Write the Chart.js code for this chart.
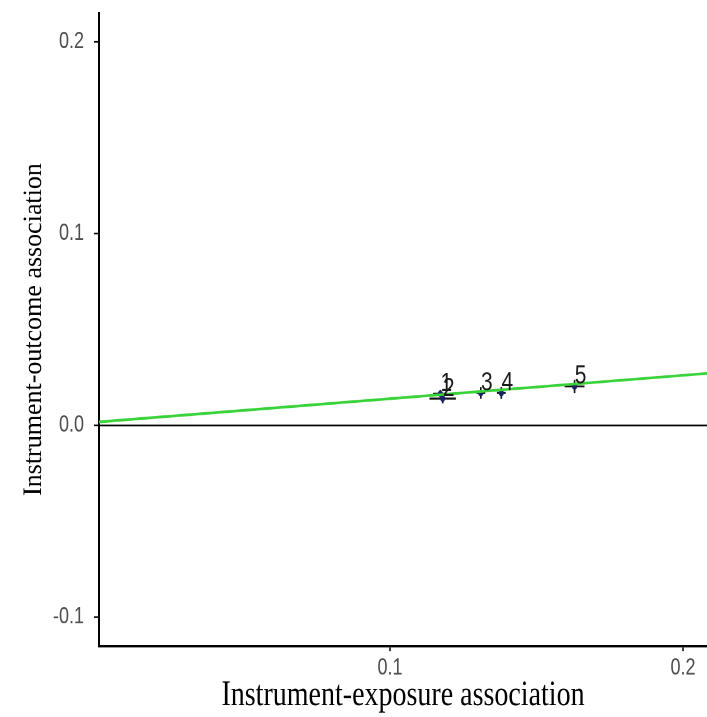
<!DOCTYPE html>
<html>
<head>
<meta charset="utf-8">
<script src="https://cdn.jsdelivr.net/npm/chart.js@4.4.1/dist/chart.umd.min.js"></script>
<style>
  html, body { margin: 0; padding: 0; background: #fff; }
  #page { width: 707px; height: 717px; overflow: hidden; position: relative; }
  /* the reference figure is stretched vertically, so draw it flatter and stretch it back */
  #wrap { position: absolute; left: 0; top: 0; width: 707px; height: 574px; transform: scaleY(1.2491); transform-origin: 0 0; }
</style>
</head>
<body>
<div id="page"><div id="wrap"><canvas id="chartScatterMR" width="707" height="574"></canvas></div></div>
<script>
// data
const snpLabels    = ['1', '2', '3', '4', '5'];
const betaExposure = [0.1172, 0.118, 0.131, 0.138, 0.163];
const seExposure   = [0.0025, 0.0045, 0.0015, 0.0015, 0.0034];
const betaOutcome  = [0.0165, 0.0140, 0.0169, 0.0169, 0.0203];
const seOutcome    = [0.002, 0.0025, 0.003, 0.003, 0.0034];
const fitX = [0.0007, 0.2082];
const fitY = [0.0018, 0.0271];
const xTicks = [0.1, 0.2];
const yTicks = [-0.1, 0.0, 0.1, 0.2];

const STRETCH = 1.2491;
const AXIS_TITLE_FONT = '"Liberation Serif", "Times New Roman", serif';
const TICK_FONT = '"Liberation Sans", Arial, sans-serif';

// horizontal reference line at y = 0
const zeroLine = {
  id: 'zeroLine',
  beforeDatasetsDraw(chart) {
    const { ctx, chartArea, scales } = chart;
    const y = scales.y.getPixelForValue(0);
    ctx.save();
    ctx.strokeStyle = '#000';
    ctx.lineWidth = 1.4;
    ctx.beginPath();
    ctx.moveTo(chartArea.left, y);
    ctx.lineTo(chartArea.right, y);
    ctx.stroke();
    ctx.restore();
  }
};

// error bars in both directions
const errorBars = {
  id: 'errorBars',
  beforeDatasetsDraw(chart) {
    const { ctx, scales: { x, y } } = chart;
    ctx.save();
    ctx.strokeStyle = '#111';
    ctx.lineWidth = 1.6;
    betaExposure.forEach((bx, i) => {
      const by = betaOutcome[i];
      const px = x.getPixelForValue(bx);
      const py = y.getPixelForValue(by);
      ctx.beginPath();
      ctx.moveTo(x.getPixelForValue(bx - seExposure[i]), py);
      ctx.lineTo(x.getPixelForValue(bx + seExposure[i]), py);
      ctx.moveTo(px, y.getPixelForValue(by - seOutcome[i]));
      ctx.lineTo(px, y.getPixelForValue(by + seOutcome[i]));
      ctx.stroke();
    });
    ctx.restore();
  }
};

// snp numbers next to the points
const pointLabels = {
  id: 'pointLabels',
  afterDatasetsDraw(chart) {
    const { ctx, scales: { x, y } } = chart;
    ctx.save();
    ctx.fillStyle = '#1a1a1a';
    ctx.font = '21px ' + TICK_FONT;
    ctx.textAlign = 'center';
    ctx.textBaseline = 'middle';
    snpLabels.forEach((lab, i) => {
      ctx.fillText(lab, x.getPixelForValue(betaExposure[i]) + 6, y.getPixelForValue(betaOutcome[i]) - 8);
    });
    ctx.restore();
  }
};

// y title is not stretched in the reference, so undo the stretch along its length
const yTitle = {
  id: 'yTitle',
  afterDraw(chart) {
    const { ctx, chartArea } = chart;
    ctx.save();
    ctx.translate(34, (chartArea.top + chartArea.bottom) / 2);
    ctx.rotate(-Math.PI / 2);
    ctx.scale(1 / STRETCH, 1);
    ctx.fillStyle = '#000';
    ctx.font = '26px ' + AXIS_TITLE_FONT;
    ctx.textAlign = 'center';
    ctx.textBaseline = 'middle';
    ctx.fillText('Instrument-outcome association', 0, 0);
    ctx.restore();
  }
};

const ctx = document.getElementById('chartScatterMR').getContext('2d');
new Chart(ctx, {
  type: 'scatter',
  data: {
    datasets: [
      {
        type: 'line',
        label: 'MR fit',
        data: fitX.map((v, i) => ({ x: v, y: fitY[i] })),
        borderColor: '#39d339',
        borderWidth: 2.2,
        pointRadius: 0,
        fill: false,
      },
      {
        label: 'SNPs',
        data: betaExposure.map((v, i) => ({ x: v, y: betaOutcome[i] })),
        backgroundColor: '#1b2468',
        borderColor: '#1b2468',
        pointRadius: 2.6,
        borderWidth: 0,
      }
    ]
  },
  plugins: [zeroLine, errorBars, pointLabels, yTitle],
  options: {
    responsive: false,
    animation: false,
    devicePixelRatio: 2,
    layout: { autoPadding: false, padding: { top: 10.4, right: 0, left: 0, bottom: 0 } },
    plugins: {
      legend: { display: false },
      tooltip: { enabled: false }
    },
    scales: {
      x: {
        type: 'linear',
        min: 0.0007,
        max: 0.2082,
        afterBuildTicks: s => { s.ticks = xTicks.map(v => ({ value: v })); },
        afterFit: s => { s.height = 56.8; s.paddingLeft = 0; s.paddingRight = 0; },
        ticks: {
          font: { family: TICK_FONT, size: 18 },
          color: '#4d4d4d',
          padding: 3,
          maxRotation: 0,
          callback: v => v.toFixed(1)
        },
        grid: { drawOnChartArea: false, color: '#000', tickColor: '#000', tickLength: 4, tickWidth: 1.5 },
        border: { color: '#000', width: 1.7 },
        title: {
          display: true,
          text: 'Instrument-exposure association',
          color: '#000',
          font: { family: AXIS_TITLE_FONT, size: 28, lineHeight: 0.92 }
        }
      },
      y: {
        type: 'linear',
        min: -0.1151,
        max: 0.2151,
        afterBuildTicks: s => { s.ticks = yTicks.map(v => ({ value: v })); },
        afterFit: s => { s.width = 99; s.paddingTop = 0; s.paddingBottom = 0; },
        ticks: {
          font: { family: TICK_FONT, size: 18 },
          color: '#4d4d4d',
          padding: 10,
          callback: v => v.toFixed(1)
        },
        grid: { drawOnChartArea: false, color: '#000', tickColor: '#000', tickLength: 5, tickWidth: 1.3 },
        border: { color: '#000', width: 2 },
        title: { display: false }
      }
    }
  }
});
</script>
</body>
</html>
